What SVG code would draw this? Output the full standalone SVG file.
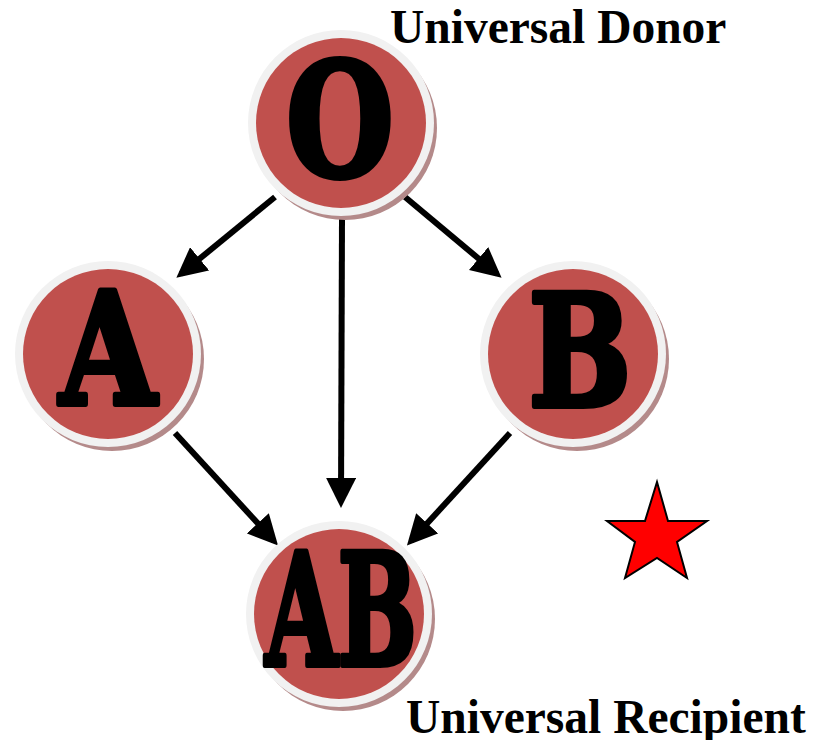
<svg xmlns="http://www.w3.org/2000/svg" width="825" height="740" viewBox="0 0 825 740">
<style>
.shadow{fill:#b48a8a}
.ring{fill:#f1f1f1}
.core{fill:#c0504d}
.big{font-family:"DejaVu Serif","Liberation Serif",serif;font-weight:bold;fill:#000;stroke:#000;stroke-width:6;stroke-linejoin:round;text-anchor:middle}
.lbl{font-family:"Liberation Serif","Times New Roman",serif;font-weight:bold;font-size:47.5px;fill:#000}
.edge{stroke:#000;stroke-width:6;fill:none;marker-end:url(#ah)}
</style>
<defs>
<marker id="ah" markerWidth="5" markerHeight="5" refX="4" refY="2.5" orient="auto" markerUnits="strokeWidth">
<path d="M0,0 L5,2.5 L0,5 z" fill="#000"/>
</marker>
</defs>
<rect width="825" height="740" fill="#fff"/>
<g id="connectors">
<line class="edge" x1="275" y1="197" x2="181" y2="274"/>
<line class="edge" x1="342" y1="218" x2="341" y2="502"/>
<line class="edge" x1="405" y1="197" x2="497" y2="274"/>
<line class="edge" x1="175" y1="433" x2="274" y2="541"/>
<line class="edge" x1="510" y1="433" x2="411" y2="541"/>
</g>
<g id="node-O">
<circle class="shadow" cx="345" cy="128" r="92"/>
<circle class="ring" cx="341" cy="123" r="93"/>
<circle class="core" cx="341" cy="123" r="85"/>
<text class="big" x="340" y="176" font-size="158" transform="translate(340 0) scale(0.78 1) translate(-340 0)">O</text>
</g>
<g id="node-A">
<circle class="shadow" cx="112" cy="359" r="92"/>
<circle class="ring" cx="108" cy="354" r="93"/>
<circle class="core" cx="108" cy="354" r="85"/>
<text class="big" x="108" y="404" font-size="156" transform="translate(108 0) scale(0.8 1) translate(-108 0)">A</text>
</g>
<g id="node-B">
<circle class="shadow" cx="577" cy="359" r="92"/>
<circle class="ring" cx="573" cy="354" r="93"/>
<circle class="core" cx="573" cy="354" r="85"/>
<text class="big" x="580" y="406" font-size="156" transform="translate(580 0) scale(0.78 1) translate(-580 0)">B</text>
</g>
<g id="node-AB">
<circle class="shadow" cx="343" cy="619" r="92"/>
<circle class="ring" cx="339" cy="614" r="93"/>
<circle class="core" cx="339" cy="614" r="85"/>
<text class="big" x="341" y="665" font-size="156" transform="translate(341 0) scale(0.6 1) translate(-341 0)">AB</text>
</g>
<g id="labels">
<text class="lbl" x="390" y="43">Universal Donor</text>
<text class="lbl" x="406" y="733">Universal Recipient</text>
</g>
<g id="star">
<polygon points="657,482 668,521 707,521 677,542 687,578 657,558 625,578 635,542 607,521 645,521" fill="#ff0000" stroke="#000" stroke-width="2" stroke-linejoin="miter"/>
</g>
</svg>
